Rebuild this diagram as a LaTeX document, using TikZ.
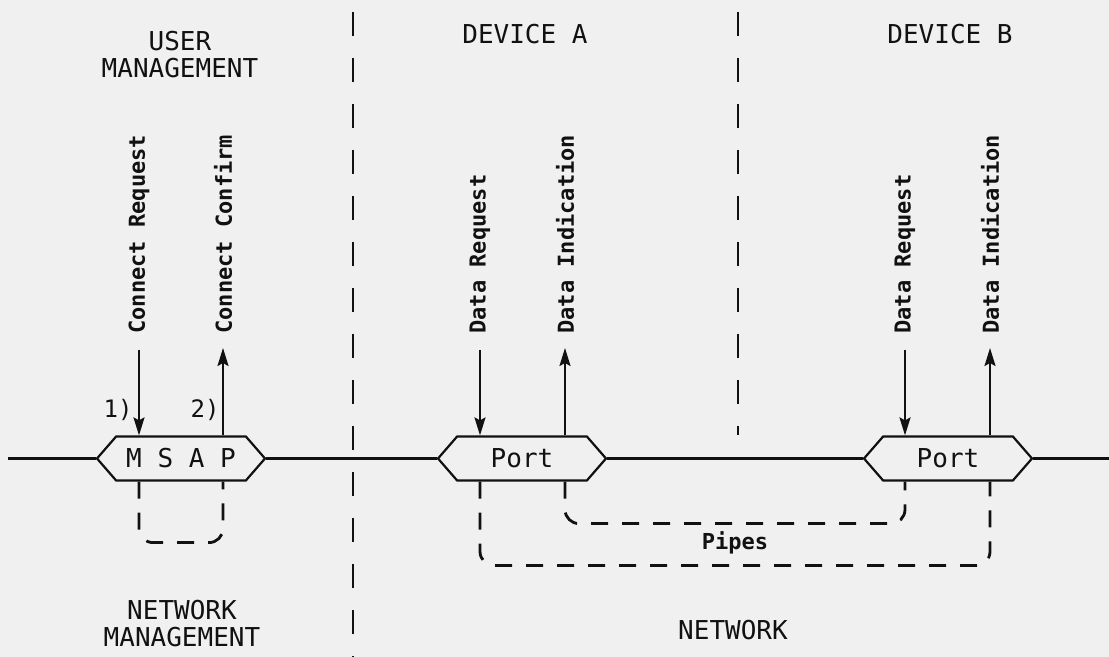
\documentclass[tikz,border=0pt]{standalone}
\usepackage{fontspec}
\setmonofont{DejaVu Sans Mono}
\usetikzlibrary{arrows.meta,positioning,shapes.symbols,calc}
\definecolor{paper}{HTML}{F0F0F0}
\definecolor{ink}{HTML}{111111}
\tikzset{
sap/.style={draw=ink,signal,signal to=west and east,signal pointer angle=98,minimum width=84pt,minimum height=22pt,inner sep=0pt,line width=1.1pt,font=\ttfamily\fontsize{13}{15}\selectfont,text=ink},
wire/.style={draw=ink,line width=1.1pt},
prim/.style={-{Stealth[length=9pt,width=5.5pt,inset=1.5pt]},line width=1.1pt,draw=ink},
pipe/.style={draw=ink,line width=1.4pt,dash pattern=on 8.5pt off 7pt,rounded corners=7pt},
divider/.style={draw=ink,line width=1.4pt,dash pattern=on 12pt off 11pt},
area/.style={font=\ttfamily\fontsize{13}{13.5}\selectfont,text=ink,align=center,inner sep=0pt},
primlabel/.style={font=\ttfamily\bfseries\fontsize{11}{13}\selectfont,text=ink,rotate=90,anchor=west,inner sep=0pt},
stepno/.style={area,font=\ttfamily\fontsize{12}{14}\selectfont}}
\begin{document}
\begin{tikzpicture}[x=0.5pt,y=-0.5pt]
\fill[paper] (0,0) rectangle (1109,657);
\useasboundingbox (0,0) rectangle (1109,657);
% column headings
\node[area] (usermgmt) at (180,55) {USER\\MANAGEMENT};
\node[area] (devA) at (525,34) {DEVICE A};
\node[area] (devB) at (950,34) {DEVICE B};
\node[area] (netmgmt) at (182,624) {NETWORK\\MANAGEMENT};
\node[area] (net) at (733,630) {NETWORK};
% access points on the network line
\node[sap] (msap) at (181,458.5) {M S A P};
\node[sap] (porta) at (522,458.5) {Port};
\node[sap] (portb) at (948,458.5) {Port};
\coordinate (wireL) at (8,458.5);
\coordinate (wireR) at (1109,458.5);
\draw[wire] (wireL)--(msap.west) (msap.east)--(porta.west) (porta.east)--(portb.west) (portb.east)--(wireR);
% service primitives
\node[primlabel] (conreq) at (139,334) {Connect Request};
\node[primlabel] (concnf) at (223,334) {Connect Confirm};
\node[primlabel] (dreqA) at (480,334) {Data Request};
\node[primlabel] (dindA) at (565,334) {Data Indication};
\node[primlabel] (dreqB) at (905,334) {Data Request};
\node[primlabel] (dindB) at (990,334) {Data Indication};
\draw[prim] ([yshift=-8pt]conreq.west)--(conreq.west |- msap.north);
\draw[prim] (concnf.west |- msap.north)--([yshift=-7pt]concnf.west);
\draw[prim] ([yshift=-8pt]dreqA.west)--(dreqA.west |- porta.north);
\draw[prim] (dindA.west |- porta.north)--([yshift=-7pt]dindA.west);
\draw[prim] ([yshift=-8pt]dreqB.west)--(dreqB.west |- portb.north);
\draw[prim] (dindB.west |- portb.north)--([yshift=-7pt]dindB.west);
\node[stepno] (one) at (118,410) {1)};
\node[stepno] (two) at (205,410) {2)};
% boundaries
\coordinate (divAtop) at (353,12);
\coordinate (divAbot) at (353,657);
\coordinate (divBtop) at (738,12);
\draw[divider] (divAtop)--(divAbot);
\draw[divider] (divBtop)--(divBtop |- porta.north);
% loop and pipes
\draw[pipe] (conreq.west |- msap.south)--++(0,61) -| (concnf.west |- msap.south);
\draw[pipe] (dindA.west |- porta.south)--++(0,42) -| (dreqB.west |- portb.south);
\draw[pipe] (dreqA.west |- porta.south)--++(0,84) -| (dindB.west |- portb.south);
\node[area,font=\ttfamily\bfseries\fontsize{11}{13}\selectfont] (pipes) at (735,543) {Pipes};
\end{tikzpicture}
\end{document}
